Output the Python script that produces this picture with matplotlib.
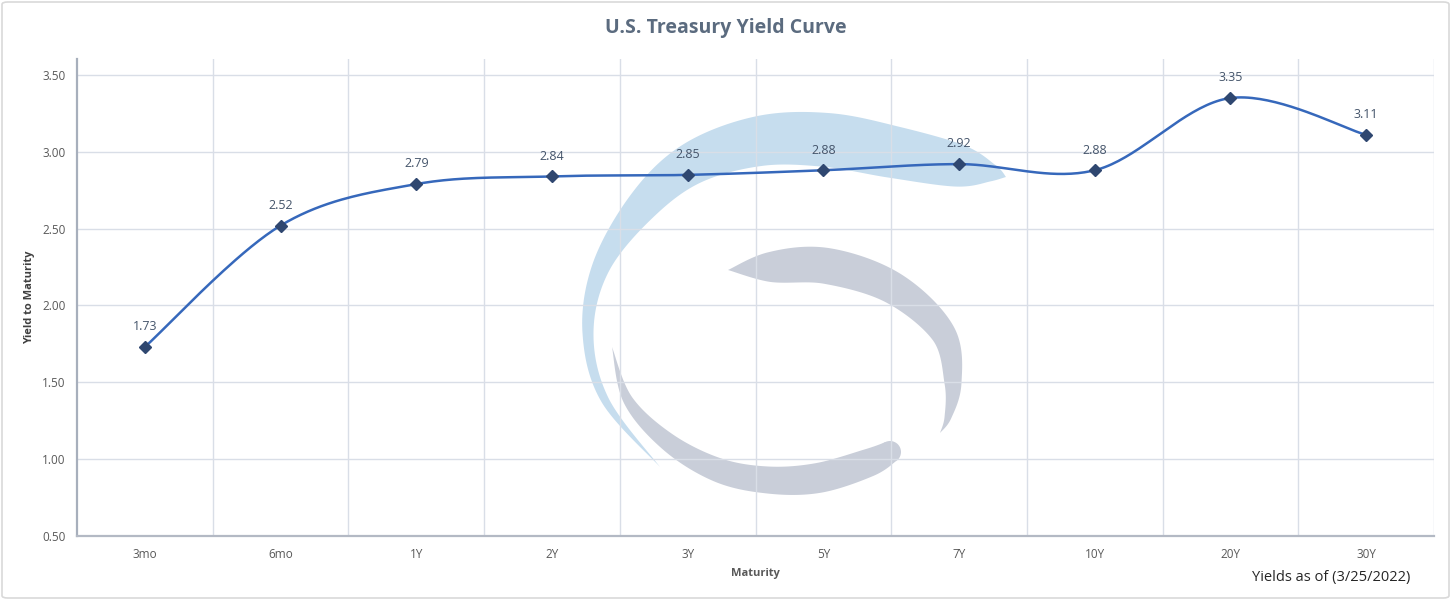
import numpy as np
import matplotlib
matplotlib.use("Agg")
from matplotlib import pyplot as plt
from matplotlib import transforms as mtransforms
from matplotlib.patches import Polygon, Circle, FancyBboxPatch

maturities = ["3mo", "6mo", "1Y", "2Y", "3Y", "5Y", "7Y", "10Y", "20Y", "30Y"]
yields = [1.73, 2.52, 2.79, 2.84, 2.85, 2.88, 2.92, 2.88, 3.35, 3.11]
y_ticks = [0.5, 1.0, 1.5, 2.0, 2.5, 3.0, 3.5]

W, H = 1451, 600
plt.rcParams['font.family'] = ['Open Sans', 'DejaVu Sans']

line_color = "#3668BB"
marker_color = "#2F4770"
grid_color = "#D9DEE7"
text_color = "#595959"


def catmull_rom(px, py, n=40):
    # smoothed line like the spreadsheet "smoothed line" option
    px = np.asarray(px, float)
    py = np.asarray(py, float)
    P = np.column_stack([px, py])
    P = np.vstack([P[0], P, P[-1]])
    out = []
    for i in range(1, len(P) - 2):
        p0, p1, p2, p3 = P[i - 1], P[i], P[i + 1], P[i + 2]
        t = np.linspace(0, 1, n, endpoint=False)[:, None]
        seg = 0.5 * ((2 * p1) + (-p0 + p2) * t + (2 * p0 - 5 * p1 + 4 * p2 - p3) * t ** 2
                     + (-p0 + 3 * p1 - 3 * p2 + p3) * t ** 3)
        out.append(seg)
    out.append(P[-2][None, :])
    out = np.vstack(out)
    return out[:, 0], out[:, 1]


def band(anchors):
    # watermark stroke: centre line + width, returns outline polygon
    a = np.array(anchors, float)
    x, y = catmull_rom(a[:, 0], a[:, 1], 30)
    _, w = catmull_rom(a[:, 0], a[:, 2], 30)
    w = np.clip(w, 0, None)
    dx = np.gradient(x)
    dy = np.gradient(y)
    L = np.hypot(dx, dy) + 1e-9
    nx, ny = -dy / L, dx / L
    left = np.column_stack([x + nx * w / 2, y + ny * w / 2])
    right = np.column_stack([x - nx * w / 2, y - ny * w / 2])
    return np.vstack([left, right[::-1]])


fig = plt.figure(figsize=(W / 100, H / 100), dpi=100)
ax = fig.add_axes([77 / W, 1 - 536 / H, (1434 - 77) / W, (536 - 59) / H])

# pixel coordinates (y down) for the watermark
pix = mtransforms.Affine2D().scale(1 / W, -1 / H).translate(0, 1) + fig.transFigure

blue_logo = [(660, 467, 0), (605, 400, 8), (588, 333, 11), (601, 267, 18), (643, 205, 32),
             (693, 163, 42), (760, 141, 50), (827, 140, 54), (893, 152, 52), (960, 166, 42),
             (993, 173, 17), (1006, 177, 0)]
gray_upper = [(728, 270, 0), (770, 267, 30), (827, 266, 36), (893, 288, 32), (943, 333, 25),
              (953, 383, 17), (948, 417, 7), (940, 433, 0)]
gray_lower = [(612, 347, 0), (628, 400, 10), (668, 442, 18), (718, 470, 24), (768, 480, 27),
              (818, 478, 30), (868, 463, 28), (890, 452, 22)]

ax.add_patch(Polygon(band(blue_logo), closed=True, transform=pix, facecolor="#C6DDEE",
                     edgecolor="none", zorder=0.5, clip_on=False))
for shape in (gray_upper, gray_lower):
    ax.add_patch(Polygon(band(shape), closed=True, transform=pix, facecolor="#C9CED9",
                         edgecolor="none", zorder=0.5, clip_on=False))
ax.add_patch(Circle((890, 452), 11, transform=pix, facecolor="#C9CED9", edgecolor="none",
                    zorder=0.5, clip_on=False))

x = np.arange(len(maturities))
sx, sy = catmull_rom(x, yields)
ax.plot(sx, sy, color=line_color, lw=1.8, zorder=3, solid_capstyle="round")
ax.plot(x, yields, linestyle="none", marker="D", markersize=6.5, color=marker_color, zorder=4)

for xi, yi in zip(x, yields):
    ax.annotate(f"{yi:.2f}", (xi, yi), xytext=(0, 14.5), textcoords="offset points",
                ha="center", va="center", fontsize=9, color="#44546A", zorder=5)

ax.set_xlim(-0.5, len(maturities) - 0.5)
ax.set_ylim(0.5, 3.604)
ax.set_yticks(y_ticks)
ax.set_yticklabels([f"{v:.2f}" for v in y_ticks])
ax.set_xticks(x)
ax.set_xticklabels(maturities)
ax.tick_params(axis="both", length=0, labelsize=8.5, labelcolor=text_color)
ax.tick_params(axis="x", pad=9)
ax.tick_params(axis="y", pad=8)

for v in y_ticks[1:]:
    ax.axhline(v, color=grid_color, lw=1, zorder=1)
for b in np.arange(0.5, len(maturities) + 0.5, 1.0):
    ax.axvline(b, color=grid_color, lw=1, zorder=1)

for s in ("top", "right"):
    ax.spines[s].set_visible(False)
ax.spines["left"].set_color("#A7AFBC")
ax.spines["left"].set_linewidth(1.6)
ax.spines["bottom"].set_color("#B3B9C4")
ax.spines["bottom"].set_linewidth(1.6)

ax.set_xlabel("Maturity", fontsize=8, fontweight="bold", color=text_color, labelpad=5)
ax.set_ylabel("Yield to Maturity", fontsize=8, fontweight="bold", color="#404040", labelpad=5)

fig.text(726 / W, 1 - 28 / H, "U.S. Treasury Yield Curve", ha="center", va="center",
         fontsize=14, fontweight="bold", color="#5B6B7F")
fig.text(1410 / W, 1 - 578 / H, "Yields as of (3/25/2022)", ha="right", va="center",
         fontsize=10.5, color="#262626")

fig.add_artist(FancyBboxPatch((2 / W, 2 / H), 1 - 4 / W, 1 - 4 / H,
                              boxstyle="round,pad=0,rounding_size=0.004",
                              transform=fig.transFigure, facecolor="none",
                              edgecolor="#D9D9D9", lw=1.2))

fig.savefig("out.png", dpi=100)
